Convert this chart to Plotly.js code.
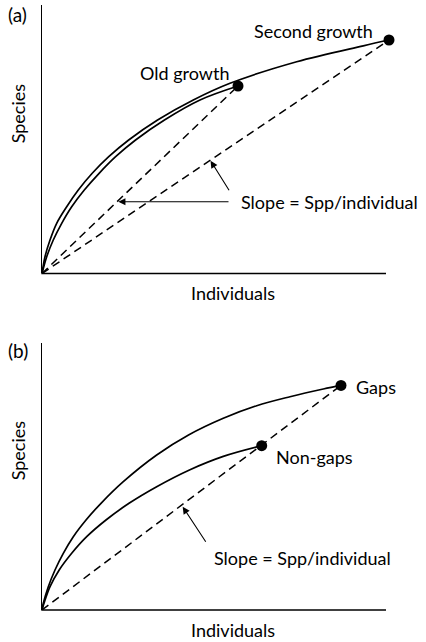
<!DOCTYPE html>
<html>
<head>
<meta charset="utf-8">
<script src="https://cdn.plot.ly/plotly-3.0.1.min.js"></script>
<style>html,body{margin:0;padding:0;background:#fff;}#chart{width:426px;height:642px;}</style>
</head>
<body>
<div id="chart"></div>
<script>
// Panel (a): species accumulation curves (arbitrary units, x-axis 0-100, y-axis 0-100)
const secondGrowthX = [0, 0.87, 2.33, 4.27, 7.18, 10.55, 14.6, 19.4, 25.2, 33.6, 43.98, 54.65, 74.04, 93.40, 100.87];
const secondGrowthY = [0, 6.26, 12.48, 18.70, 24.88, 31.10, 37.32, 43.50, 49.72, 57.17, 64.62, 70.84, 78.88, 84.80, 86.96];
const oldGrowthX = [0, 1.37, 3.28, 5.73, 8.63, 12.3, 16.6, 21.4, 27.2, 35.6, 45.93, 56.98];
const oldGrowthY = [0, 6.26, 12.48, 18.70, 24.88, 31.10, 37.32, 43.50, 49.72, 57.17, 64.62, 69.83];
// Panel (b)
const gapsX = [0, 0.38, 1.83, 3.78, 6.19, 9.10, 12.8, 17.15, 23.63, 33.34, 42.6, 52.70, 62.41, 72.09, 81.77, 86.92];
const gapsY = [0, 2.51, 8.74, 15.00, 21.26, 27.49, 33.75, 40.01, 48.11, 58.12, 65.62, 71.88, 76.6, 79.98, 82.87, 84.22];
const nonGapsX = [0, 0.58, 2.33, 5.0, 8.63, 12.99, 18.60, 25.3, 33.34, 43.02, 52.70, 63.87];
const nonGapsY = [0, 2.51, 8.74, 15.00, 21.26, 27.49, 33.75, 40.01, 46.23, 52.6, 57.6, 61.61];

const panelLabels = ['(a)', '(b)'];
const xTitle = 'Individuals';
const yTitle = 'Species';
const slopeText = 'Slope = Spp/individual';
const seriesNames = ['Second growth', 'Old growth', 'Gaps', 'Non-gaps'];

const FONT = 'Lato, "Open Sans", sans-serif';
const FS = 18;
const last = a => a[a.length - 1];
const AXIS_END = 100;   // x-axis line ends at x = 100
const X_MAX = 102.907;  // a little room so the end dot is not cut

function curve(x, y, xa, ya) {
  return {x: x, y: y, xaxis: xa, yaxis: ya, mode: 'lines', type: 'scatter',
    line: {color: '#000', width: 1.7, shape: 'spline', smoothing: 1}, hoverinfo: 'skip'};
}
function dashed(x, y, xa, ya) {
  return {x: [0, last(x)], y: [0, last(y)], xaxis: xa, yaxis: ya, mode: 'lines', type: 'scatter',
    line: {color: '#000', width: 1.5, dash: '8px,5px'}, hoverinfo: 'skip'};
}
function dot(x, y, xa, ya) {
  return {x: [last(x)], y: [last(y)], xaxis: xa, yaxis: ya, mode: 'markers', type: 'scatter',
    marker: {color: '#000', size: 11}, cliponaxis: false, hoverinfo: 'skip'};
}

const traces = [
  curve(secondGrowthX, secondGrowthY, 'x', 'y'),
  curve(oldGrowthX, oldGrowthY, 'x', 'y'),
  dashed(secondGrowthX, secondGrowthY, 'x', 'y'),
  dashed(oldGrowthX, oldGrowthY, 'x', 'y'),
  dot(secondGrowthX, secondGrowthY, 'x', 'y'),
  dot(oldGrowthX, oldGrowthY, 'x', 'y'),
  curve(gapsX, gapsY, 'x2', 'y2'),
  curve(nonGapsX, nonGapsY, 'x2', 'y2'),
  dashed(gapsX, gapsY, 'x2', 'y2'),
  dot(gapsX, gapsY, 'x2', 'y2'),
  dot(nonGapsX, nonGapsY, 'x2', 'y2')
];

function txt(text, x, y, xr, yr, xanchor, extra) {
  return Object.assign({text: text, x: x, y: y, xref: xr, yref: yr, showarrow: false,
    xanchor: xanchor || 'center', yanchor: 'middle', font: {family: FONT, size: FS, color: '#000'}}, extra || {});
}
function arrow(x, y, ax, ay, xr, yr) {
  return {text: '', x: x, y: y, ax: ax, ay: ay, xref: xr, yref: yr, axref: xr, ayref: yr,
    showarrow: true, arrowhead: 2, arrowsize: 1.3, arrowwidth: 1.1, arrowcolor: '#000', standoff: 0, startstandoff: 0};
}

const annotations = [
  // panel a
  txt(panelLabels[0], -0.0692, 0.9835, 'paper', 'paper', 'center', {font: {family: FONT, size: 19, color: '#000'}}),
  txt(yTitle, -0.0669, 0.8215, 'paper', 'paper', 'center', {textangle: -90}),
  txt(xTitle, 0.5395, 0.524, 'paper', 'paper'),
  txt(seriesNames[0], 78.78, 90.5, 'x', 'y'),
  txt(seriesNames[1], 41.4, 74.8, 'x', 'y'),
  txt(slopeText, 57.27, 26.74, 'x', 'y', 'left'),
  arrow(22.18, 26.74, 54.65, 26.74, 'x', 'y'),
  arrow(49.0, 42.0, 54.65, 30.47, 'x', 'y'),
  // panel b
  txt(panelLabels[1], -0.0664, 0.4289, 'paper', 'paper', 'center', {font: {family: FONT, size: 19, color: '#000'}}),
  txt(yTitle, -0.0669, 0.2645, 'paper', 'paper', 'center', {textangle: -90}),
  txt(xTitle, 0.5395, -0.0331, 'paper', 'paper'),
  txt(seriesNames[2], 90.70, 83.8, 'x2', 'y2', 'left'),
  txt(seriesNames[3], 67.44, 57.37, 'x2', 'y2', 'left'),
  txt(slopeText, 49.33, 19.5, 'x2', 'y2', 'left'),
  arrow(40.90, 38.73, 47.88, 25.01, 'x2', 'y2')
];

function xaxisDef(anchor) {
  return {range: [0, X_MAX], domain: [0, 1], anchor: anchor, showline: false,
    showgrid: false, zeroline: false, showticklabels: false, ticks: '', fixedrange: true};
}
function yaxisDef(domain, anchor) {
  return {range: [0, 100], domain: domain, anchor: anchor, showline: true, linecolor: '#000', linewidth: 1.4,
    showgrid: false, zeroline: false, showticklabels: false, ticks: '', fixedrange: true};
}

const domA = [0.5562, 1];
const domB = [0, 0.4408];
const xEndPaper = AXIS_END / X_MAX;

const layout = {
  width: 426, height: 642,
  margin: {l: 42, r: 30, t: 5, b: 32},
  paper_bgcolor: '#fff', plot_bgcolor: '#fff',
  showlegend: false,
  font: {family: FONT, size: FS, color: '#000'},
  xaxis: xaxisDef('y'),
  yaxis: yaxisDef(domA, 'x'),
  xaxis2: xaxisDef('y2'),
  yaxis2: yaxisDef(domB, 'x2'),
  shapes: [
    {type: 'line', xref: 'paper', yref: 'paper', x0: -0.002, x1: xEndPaper, y0: domA[0], y1: domA[0], line: {color: '#000', width: 1.4}},
    {type: 'line', xref: 'paper', yref: 'paper', x0: -0.002, x1: xEndPaper, y0: domB[0], y1: domB[0], line: {color: '#000', width: 1.4}}
  ],
  annotations: annotations
};

Plotly.newPlot('chart', traces, layout, {staticPlot: true, displayModeBar: false});
</script>
</body>
</html>
